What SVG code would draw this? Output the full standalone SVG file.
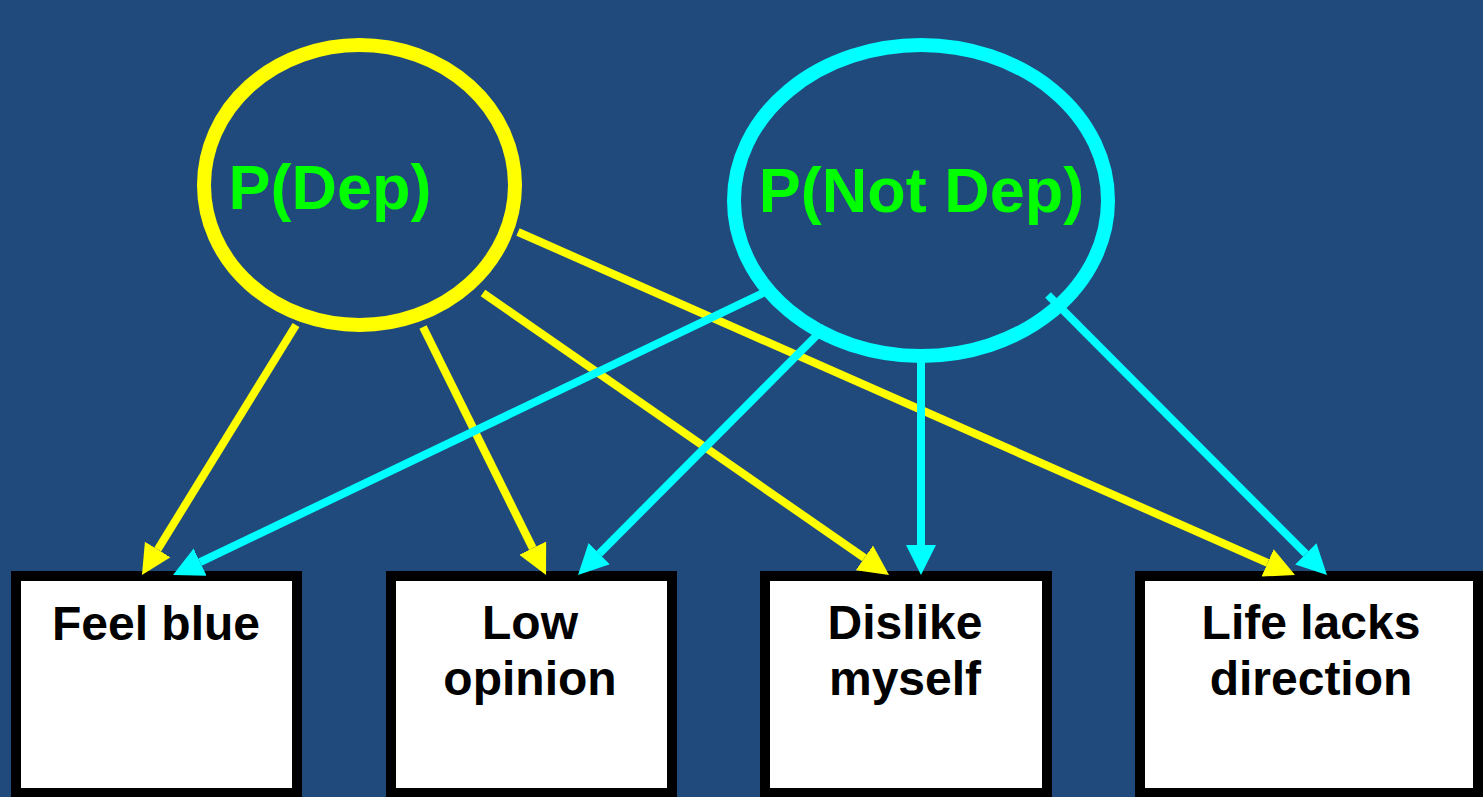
<svg xmlns="http://www.w3.org/2000/svg" width="1483" height="797" viewBox="0 0 1483 797">
  <style>
    .box { fill: #ffffff; stroke: #000000; stroke-width: 10; }
    .label { font-family: "Liberation Sans", Arial, sans-serif; font-weight: bold; font-size: 48px; fill: #000000; text-anchor: middle; }
    .prob { font-family: "Liberation Sans", Arial, sans-serif; font-weight: bold; font-size: 63px; fill: #00ff00; text-anchor: middle; }
    .dep { fill: none; stroke: #ffff00; stroke-width: 14; }
    .notdep { fill: none; stroke: #00ffff; stroke-width: 14; }
    .y { stroke: #ffff00; stroke-width: 8; fill: none; marker-end: url(#headY); }
    .c { stroke: #00ffff; stroke-width: 8; fill: none; marker-end: url(#headC); }
  </style>
  <defs>
    <marker id="headY" markerUnits="userSpaceOnUse" markerWidth="32" markerHeight="32" viewBox="0 -16 32 32" refX="0" refY="0" orient="auto">
      <path d="M0,-15 L30,0 L0,15 z" fill="#ffff00"/>
    </marker>
    <marker id="headC" markerUnits="userSpaceOnUse" markerWidth="32" markerHeight="32" viewBox="0 -16 32 32" refX="0" refY="0" orient="auto">
      <path d="M0,-15 L30,0 L0,15 z" fill="#00ffff"/>
    </marker>
  </defs>

  <rect x="0" y="0" width="1483" height="797" fill="#204a7c"/>

  <!-- cause nodes -->
  <g id="pdep">
    <ellipse class="dep" cx="359.5" cy="185" rx="155.5" ry="140"/>
    <text class="prob" x="330" y="209">P(Dep)</text>
  </g>
  <g id="pnotdep">
    <ellipse class="notdep" cx="921" cy="200.5" rx="187" ry="155.5"/>
    <text class="prob" x="921.5" y="212">P(Not Dep)</text>
  </g>

  <!-- symptom nodes -->
  <g id="feel-blue">
    <rect class="box" x="16" y="576" width="281" height="217"/>
    <text class="label" x="156" y="640">Feel blue</text>
  </g>
  <g id="low-opinion">
    <rect class="box" x="391" y="576" width="281" height="217"/>
    <text class="label" x="530" y="639">Low</text>
    <text class="label" x="530" y="695">opinion</text>
  </g>
  <g id="dislike-myself">
    <rect class="box" x="765" y="576" width="282" height="217"/>
    <text class="label" x="905" y="639">Dislike</text>
    <text class="label" x="905" y="695">myself</text>
  </g>
  <g id="life-lacks-direction">
    <rect class="box" x="1140" y="576" width="338" height="217"/>
    <text class="label" x="1311" y="639">Life lacks</text>
    <text class="label" x="1311" y="695">direction</text>
  </g>

  <!-- connectors: lines end at the arrowhead base -->
  <g id="connectors">
    <line class="y" x1="296" y1="325" x2="157.7" y2="549.5"/>
    <line class="y" x1="423" y1="327" x2="532.7" y2="548.1"/>
    <line class="y" x1="483" y1="293" x2="864.4" y2="557.9"/>
    <line class="y" x1="518" y1="232" x2="1267.6" y2="562.9"/>
    <line class="c" x1="763" y1="293" x2="200.1" y2="562.1"/>
    <line class="c" x1="825" y1="327" x2="599.2" y2="553.7"/>
    <line class="c" x1="921" y1="356" x2="921" y2="545"/>
    <line class="c" x1="1048" y1="295" x2="1305.8" y2="553.8"/>
  </g>
</svg>
